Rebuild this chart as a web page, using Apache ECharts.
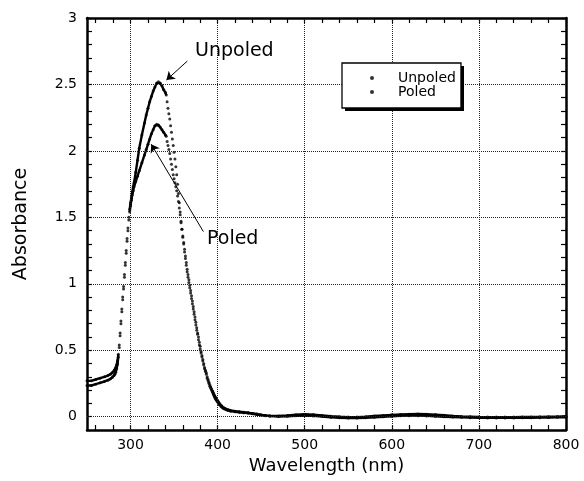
<!DOCTYPE html>
<html><head><meta charset="utf-8">
<script src="https://cdn.jsdelivr.net/npm/echarts@6/dist/echarts.min.js"></script>
<style>html,body{margin:0;padding:0;background:#fff}#c{width:584px;height:481px}</style>
</head><body><div id="c"></div>
<script>
// wavelengths (nm), shared by both curves
const wavelength = [
  250,255,260,265,270,274,277,279,281,282,283,284,285,
  286,287,288,289,290,291,292,293,294,295,296,297,298,299,300,301,302,303,
  304,306,308,310,313,316,318,320,322,324,326,328,330,332,334,336,338,340,341,
  342,343,344,345,346,347,348,349,350,351,
  352,353,354,355,356,357,358,359,360,361,
  362,363,364,365,366,367,368,369,370,371,
  372,373,374,375,376,377,378,379,380,381,
  382,383,384,385,386,387,388,389,390,391,
  392,393,394,395,396,397,398,399,400,401,402,
  404,406,408,410,412,415,420,425,430,435,440,445,450,455,460,
  470,480,490,500,510,520,530,540,550,560,
  570,580,590,600,610,620,630,640,650,660,
  670,680,690,700,710,720,730,740,750,760,
  770,780,790,800
];
const unpoled = [
  0.27,0.27,0.28,0.29,0.30,0.31,0.32,0.33,0.345,0.355,0.37,0.39,0.42,
  0.47,0.54,0.63,0.72,0.81,0.9,0.98,1.07,1.16,1.25,1.34,1.42,1.5,1.56,1.61,1.65,1.69,1.73,
  1.76,1.84,1.93,2.02,2.12,2.21,2.27,2.32,2.37,2.41,2.45,2.48,2.51,2.52,2.51,2.49,2.46,2.44,2.42,
  2.37,2.32,2.28,2.24,2.19,2.14,2.09,2.04,1.99,1.94,
  1.88,1.82,1.75,1.68,1.61,1.54,1.47,1.41,1.35,1.3,
  1.24,1.19,1.14,1.09,1.05,1.01,0.97,0.93,0.89,0.85,
  0.81,0.77,0.73,0.69,0.65,0.62,0.58,0.54,0.51,0.48,
  0.45,0.42,0.39,0.36,0.34,0.32,0.29,0.27,0.25,0.23,
  0.215,0.2,0.185,0.17,0.155,0.14,0.13,0.12,0.11,0.1,0.09,
  0.075,0.065,0.058,0.052,0.047,0.042,0.037,0.034,0.03,0.027,0.022,0.017,0.012,0.008,0.006,
  0.006,0.01,0.015,0.018,0.016,0.01,0.004,0,-0.003,-0.003,
  0,0.005,0.01,0.014,0.017,0.019,0.02,0.019,0.016,0.011,
  0.006,0.002,0,-0.002,-0.003,-0.003,-0.003,-0.003,-0.002,-0.002,
  -0.001,0,0.001,0.003
];
const poled = [
  0.235,0.235,0.245,0.255,0.265,0.275,0.285,0.295,0.31,0.32,0.335,0.36,0.395,
  0.45,0.52,0.61,0.7,0.79,0.88,0.96,1.05,1.14,1.23,1.32,1.4,1.48,1.54,1.59,1.63,1.67,1.7,
  1.73,1.77,1.81,1.85,1.91,1.97,2.01,2.05,2.09,2.13,2.16,2.19,2.2,2.195,2.18,2.16,2.14,2.12,2.11,
  2.07,2.04,2.01,1.98,1.94,1.9,1.86,1.82,1.79,1.76,
  1.73,1.7,1.66,1.62,1.57,1.52,1.46,1.41,1.36,1.31,
  1.26,1.21,1.16,1.11,1.07,1.03,0.99,0.95,0.91,0.87,
  0.83,0.79,0.75,0.71,0.67,0.63,0.6,0.56,0.53,0.49,
  0.46,0.43,0.4,0.37,0.35,0.33,0.3,0.28,0.26,0.24,
  0.225,0.21,0.195,0.18,0.165,0.15,0.14,0.13,0.12,0.11,0.1,
  0.085,0.072,0.063,0.057,0.052,0.047,0.042,0.038,0.034,0.03,0.025,0.02,0.014,0.009,0.005,
  0.002,0.004,0.007,0.008,0.006,0.002,-0.004,-0.008,-0.01,-0.01,
  -0.008,-0.004,0,0.004,0.007,0.008,0.008,0.006,0.003,0,
  -0.003,-0.005,-0.007,-0.008,-0.009,-0.009,-0.009,-0.009,-0.008,-0.008,
  -0.007,-0.006,-0.005,-0.004
];
const seriesNames = ['Unpoled', 'Poled'];
const xTickLabels = [300, 400, 500, 600, 700, 800];
const yTickLabels = [0, 0.5, 1, 1.5, 2, 2.5, 3];
const xGridLines = [300, 400, 500, 600, 700];
const yGridLines = [0, 0.5, 1, 1.5, 2, 2.5];
// wavelength ranges where the sampled points are sparse (drawn as dots only)
const dottedRanges = [[286, 299], [341, 394]];
// annotation arrows: [tail, head] in data coordinates
const unpoledArrow = [[365.2, 2.676], [341.2, 2.533]];
const poledArrow = [[383.6, 1.393], [323.7, 2.051]];

if (wavelength.length !== unpoled.length || wavelength.length !== poled.length) {
  console.error('length mismatch', wavelength.length, unpoled.length, poled.length);
}

const FONT = '"DejaVu Sans", sans-serif';
const xMinor = []; for (let v = 260; v <= 800; v += 20) xMinor.push(v);
const yMinor = []; for (let i = -1; i <= 30; i++) yMinor.push(Math.round(i) / 10);

function pts(vals) { return wavelength.map((w, i) => [w, vals[i]]); }
function linePts(vals) {
  return wavelength.map((w, i) => {
    const inDot = dottedRanges.some(r => w > r[0] && w < r[1]);
    return inDot ? [w, null] : [w, vals[i]];
  });
}

const axisLine = { show: true, onZero: false, lineStyle: { color: '#000', width: 2.5 } };
const tickX = { show: true, inside: true, length: 5, customValues: xMinor, lineStyle: { color: '#000', width: 1.2 } };
const tickY = { show: true, inside: true, length: 5, customValues: yMinor, lineStyle: { color: '#000', width: 1.2 } };

const LEG = { left: 342, top: 63, w: 119, h: 45 };

const chart = echarts.init(document.getElementById('c'), null, { renderer: 'canvas' });
chart.setOption({
  animation: false,
  backgroundColor: '#fff',
  grid: { left: 87, right: 18, top: 18, bottom: 51, containLabel: false },
  legend: {
    data: seriesNames,
    orient: 'vertical',
    left: LEG.left, top: LEG.top,
    padding: [8, 5, 9, 28],
    itemGap: 0,
    itemWidth: 4, itemHeight: 4,
    backgroundColor: '#fff',
    borderColor: '#000', borderWidth: 1.3, borderRadius: 0,
    textStyle: { fontFamily: FONT, fontSize: 14, lineHeight: 14, color: '#000', padding: [0, 0, 0, 19] },
    selectedMode: false,
    z: 20
  },
  xAxis: [
    { type: 'value', min: 250, max: 800, position: 'bottom',
      axisLine: axisLine, axisTick: tickX,
      axisLabel: { customValues: xTickLabels, fontFamily: FONT, fontSize: 14, color: '#000', margin: 8 },
      splitLine: { show: false },
      name: 'Wavelength (nm)', nameLocation: 'middle', nameGap: 24,
      nameTextStyle: { fontFamily: FONT, fontSize: 18, color: '#000' } },
    { type: 'value', min: 250, max: 800, position: 'top',
      axisLine: axisLine, axisTick: tickX, axisLabel: { show: false }, splitLine: { show: false } }
  ],
  yAxis: [
    { type: 'value', min: -0.1, max: 3, position: 'left',
      axisLine: axisLine, axisTick: tickY,
      axisLabel: { customValues: yTickLabels, fontFamily: FONT, fontSize: 14, color: '#000', margin: 10 },
      splitLine: { show: false },
      name: 'Absorbance', nameLocation: 'middle', nameGap: 56, nameRotate: 90,
      nameTextStyle: { fontFamily: FONT, fontSize: 19, color: '#000' } },
    { type: 'value', min: -0.1, max: 3, position: 'right',
      axisLine: axisLine, axisTick: tickY, axisLabel: { show: false }, splitLine: { show: false } }
  ],
  series: [
    { name: 'grid', type: 'scatter', data: [[250, -0.1]], symbolSize: 0, z: 1, silent: true,
      markLine: { silent: true, symbol: ['none', 'none'], label: { show: false },
        lineStyle: { type: [1, 1], color: '#222', width: 1 },
        data: xGridLines.map(v => ({ xAxis: v })).concat(yGridLines.map(v => ({ yAxis: v }))) } },
    { name: 'Unpoled line', type: 'line', data: linePts(unpoled), showSymbol: false, symbol: 'none',
      connectNulls: false, lineStyle: { color: '#000', width: 2.4 }, z: 3, silent: true },
    { name: 'Poled line', type: 'line', data: linePts(poled), showSymbol: false, symbol: 'none',
      connectNulls: false, lineStyle: { color: '#000', width: 2.4 }, z: 3, silent: true },
    { name: 'Unpoled', type: 'scatter', data: pts(unpoled), symbol: 'circle', symbolSize: 3,
      itemStyle: { color: '#000' }, z: 4, silent: true },
    { name: 'Poled', type: 'scatter', data: pts(poled), symbol: 'circle', symbolSize: 3,
      itemStyle: { color: '#000' }, z: 4, silent: true },
    { name: 'arrows', type: 'scatter', data: [], z: 5, silent: true,
      markLine: { silent: true, symbol: ['none', 'arrow'], symbolSize: 8, label: { show: false },
        lineStyle: { type: 'solid', color: '#000', width: 1 },
        data: [
          [{ coord: unpoledArrow[0] }, { coord: unpoledArrow[1] }],
          [{ coord: poledArrow[0] }, { coord: poledArrow[1] }]
        ] } }
  ],
  graphic: [
    { type: 'rect', z: 10, shape: { x: LEG.left + 3, y: LEG.top + 3, width: LEG.w, height: LEG.h },
      style: { fill: '#000' } },
    { type: 'text', left: 195, top: 42, style: { text: 'Unpoled', font: '19px ' + FONT, fill: '#000' } },
    { type: 'text', left: 207, top: 230, style: { text: 'Poled', font: '19px ' + FONT, fill: '#000' } }
  ]
});
</script></body></html>
